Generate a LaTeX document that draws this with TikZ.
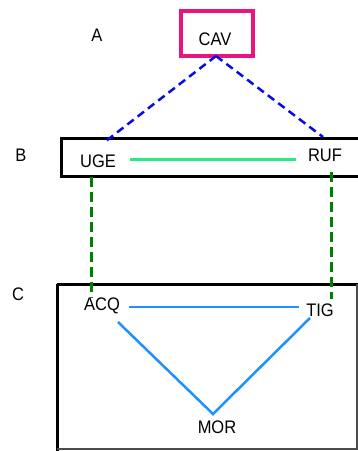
\documentclass[tikz,border=0pt]{standalone}
\usepackage{fontspec}
\setmainfont{Liberation Sans}
\definecolor{pinkc}{RGB}{232,20,128}
\definecolor{lgreen}{RGB}{40,235,130}
\definecolor{dblue}{RGB}{10,10,230}
\definecolor{dgreen}{RGB}{0,128,0}
\definecolor{lblue}{RGB}{30,144,255}
\begin{document}
\begin{tikzpicture}[x=1pt,y=-1pt,
  txt/.style={inner sep=0pt,font=\fontsize{16.5}{16.5}\selectfont},
  boxline/.style={draw=black,line width=3pt},
  blued/.style={dblue,line width=2.5pt,dash pattern=on 8pt off 5pt},
  greend/.style={dgreen,line width=3pt,dash pattern=on 10pt off 5pt},
  bluel/.style={lblue,line width=2.5pt},
  greenl/.style={lgreen,line width=3pt}]
\clip (0,0) rectangle (358,451);
\fill[white] (0,0) rectangle (358,451);
% boxes
\draw[pinkc,line width=3.5pt] (181,11) rectangle (253,56);
\coordinate (cavb) at (216,56);
\draw[boxline] (61,138) rectangle (380,176);
\draw[boxline] (57,284) -- (358.5,284);
\draw[boxline] (57,284) -- (57,451);
\draw[black!70,line width=1.5pt] (357,284) -- (357,449) -- (57,449);
% labels
\node[txt] (A) at (97,35) {\scalebox{1}[1.1]{A}};
\node[txt] (B) at (21,155) {\scalebox{1}[1.1]{B}};
\node[txt] (C) at (18,294) {\scalebox{1}[1.1]{C}};
\node[txt] (cav) at (215,39) {\scalebox{1}[1.1]{CAV}};
\node[txt] (uge) at (98,161) {\scalebox{1}[1.1]{UGE}};
\node[txt] (ruf) at (325,155) {\scalebox{1}[1.1]{RUF}};
\node[txt] (acq) at (102,306) {\scalebox{1}[1.1]{ACQ}};
\node[txt] (tig) at (320,310) {\scalebox{1}[1.1]{TIG}};
\node[txt] (mor) at (217,427) {\scalebox{1}[1.1]{MOR}};
% connector end points
\coordinate (ugeT) at (106,141);
\coordinate (rufT) at (323,137);
\coordinate (ugeR) at (130,159);
\coordinate (rufL) at (296,159);
\coordinate (ugeB) at (91,177);
\coordinate (acqT) at (91,298);
\coordinate (rufB) at (331,172);
\coordinate (tigT) at (331,299);
\coordinate (acqR) at (129,307);
\coordinate (tigL) at (299,307);
\coordinate (acqD) at (118,322);
\coordinate (tigD) at (310,318);
\coordinate (morT) at (213,414);
% connectors
\draw[blued] (cavb) -- (ugeT);
\draw[blued] (cavb) -- (rufT);
\draw[greenl] (ugeR) -- (rufL);
\draw[greend] (ugeB) -- (acqT);
\draw[greend] (rufB) -- (tigT);
\draw[bluel] (acqR) -- (tigL);
\draw[bluel] (acqD) -- (morT) -- (tigD);
\end{tikzpicture}
\end{document}
